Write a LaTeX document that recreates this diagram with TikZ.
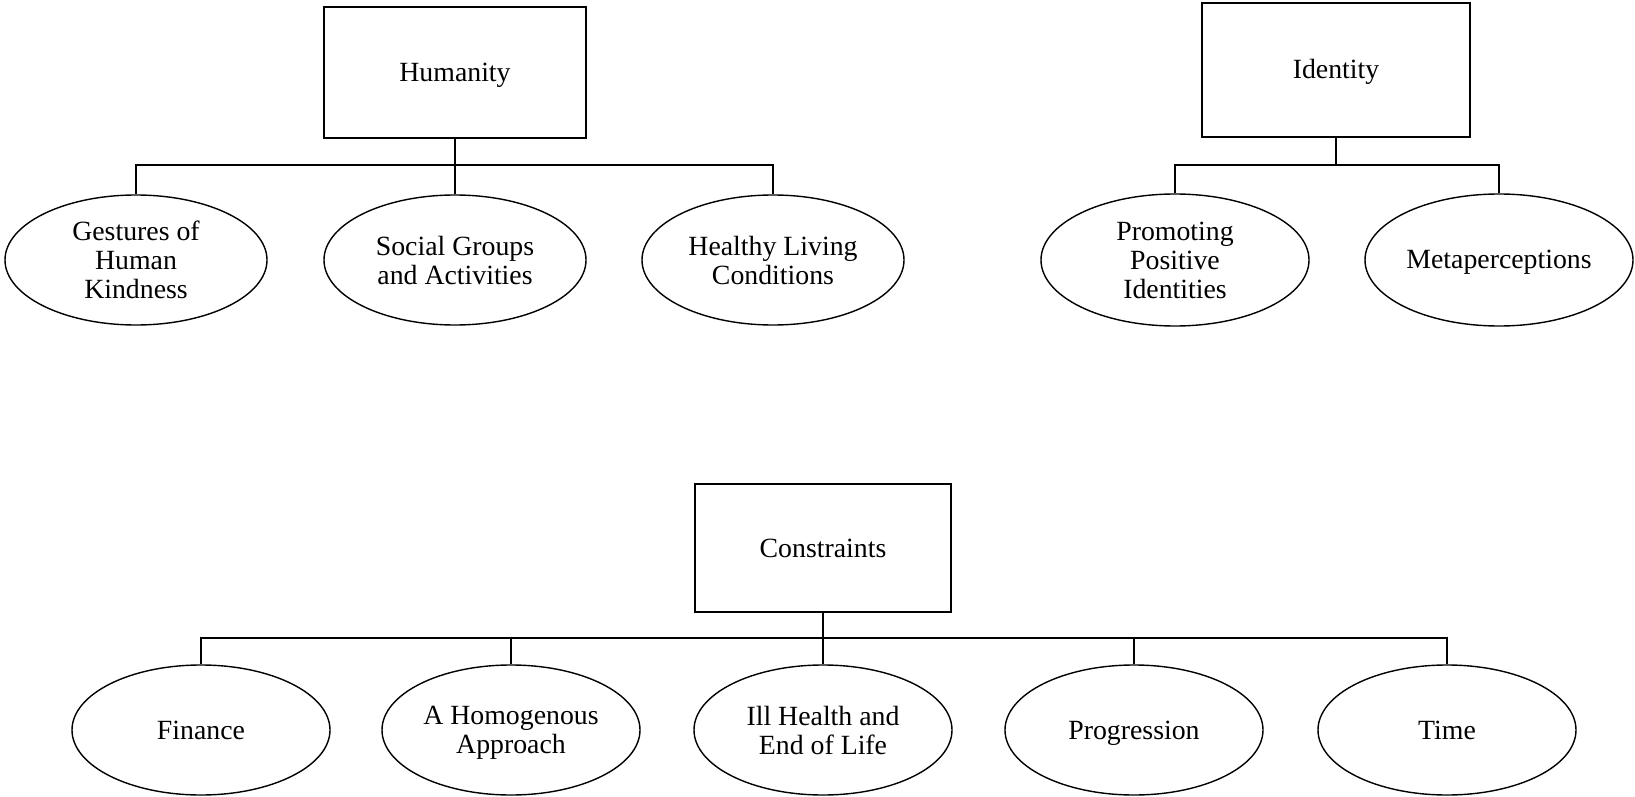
\documentclass[tikz,border=0pt]{standalone}
\usepackage{fontspec}
\setmainfont{Liberation Serif}
\usetikzlibrary{shapes.geometric}
\begin{document}
\begin{tikzpicture}[x=0.5pt,y=-0.5pt,
  every node/.style={font=\fontsize{13.9}{14.5}\selectfont, align=center, inner sep=0pt},
  oneline/.style={text height=9pt, text depth=0pt},
  topbox/.style={draw, line width=0.7pt, rectangle, oneline},
  leaf/.style={draw, line width=0.7pt, ellipse},
  link/.style={line width=0.7pt}]
\useasboundingbox (0,0) rectangle (1635,797);
% Humanity
\node[topbox, minimum width=131pt, minimum height=65.5pt] (hum) at (455,72.5) {Humanity};
\node[leaf, minimum width=131pt, minimum height=65pt] (g) at (136,260) {Gestures of\\Human\\Kindness};
\node[leaf, minimum width=131pt, minimum height=65pt] (s) at (455,260) {Social Groups\\and Activities};
\node[leaf, minimum width=131pt, minimum height=65pt] (h) at (773,260) {Healthy Living\\Conditions};
\coordinate (hb) at (455,165);
\draw[link] (hum.south) -- (hb) -| (g.north);
\draw[link] (hb) -| (h.north);
\draw[link] (hb) -- (s.north);
% Identity
\node[topbox, minimum width=134pt, minimum height=67pt] (id) at (1336,70) {Identity};
\node[leaf, minimum width=134pt, minimum height=66pt] (p) at (1175,260) {Promoting\\Positive\\Identities};
\node[leaf, oneline, minimum width=134pt, minimum height=66pt] (m) at (1499,260) {Metaperceptions};
\coordinate (ib) at (1336,165);
\draw[line width=0.9pt] (id.south) -- (ib);
\draw[link] (ib) -| (p.north);
\draw[link] (ib) -| (m.north);
% Constraints
\node[topbox, minimum width=128pt, minimum height=64pt] (con) at (823,548) {Constraints};
\node[leaf, oneline, minimum width=129pt, minimum height=65pt] (f) at (201,730) {Finance};
\node[leaf, minimum width=129pt, minimum height=65pt] (a) at (511,730) {A Homogenous\\\raisebox{0pt}[\height][0pt]{Approach}};
\node[leaf, minimum width=129pt, minimum height=65pt] (ill) at (823,730) {Ill Health and\\End of Life};
\node[leaf, oneline, minimum width=129pt, minimum height=65pt] (pr) at (1134,730) {Progression};
\node[leaf, oneline, minimum width=129pt, minimum height=65pt] (t) at (1447,730) {Time};
\coordinate (cb) at (823,638);
\draw[line width=1.1pt] (con.south) -- (cb);
\draw[line width=0.9pt] (cb) -| (f.north);
\draw[line width=0.9pt] (cb) -| (t.north);
\draw[link] (a.north) -- (a.north |- cb);
\draw[link] (pr.north) -- (pr.north |- cb);
\draw[link] (cb) -- (ill.north);
\end{tikzpicture}
\end{document}
